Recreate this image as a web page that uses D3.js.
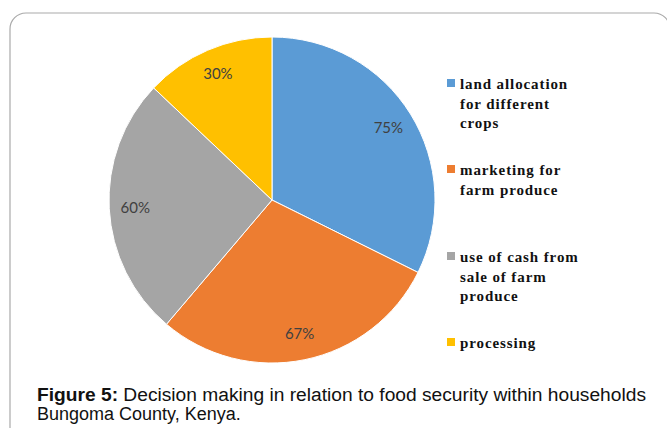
<!DOCTYPE html>
<html>
<head>
<meta charset="utf-8">
<script src="https://cdn.jsdelivr.net/npm/d3@7"></script>
<style>
  body { margin: 0; background: #fff; }
</style>
</head>
<body>
<script>
// pie data
var categories = ["land allocation for different crops", "marketing for farm produce",
                  "use of cash from sale of farm produce", "processing"];
var values = [75, 67, 60, 30];
var colors = ["#5b9bd5", "#ed7d31", "#a5a5a5", "#ffc000"];
// legend lines (wrapped like the original)
var legendLines = [["land allocation", "for different", "crops"],
                   ["marketing for", "farm produce"],
                   ["use of cash from", "sale of farm", "produce"],
                   ["processing"]];

var w_svg = 667, h_svg = 428;
var cx = 272, cy = 200, radius = 163;

var svg = d3.select("body").append("svg")
  .attr("width", w_svg).attr("height", h_svg);

// rounded frame
svg.append("rect")
  .attr("x", 10).attr("y", 13)
  .attr("width", 660).attr("height", 440)
  .attr("rx", 16)
  .attr("fill", "none")
  .attr("stroke", "#aaaaaa")
  .attr("stroke-width", 1.2);

var pie = d3.pie().sort(null).value(function(d) { return d; });
var arcs = pie(values);
var arc = d3.arc().innerRadius(0).outerRadius(radius);
var labelArc = d3.arc().innerRadius(radius * 0.84).outerRadius(radius * 0.84);

var g = svg.append("g").attr("transform", "translate(" + cx + "," + cy + ")");

g.selectAll("path")
  .data(arcs)
  .enter()
  .append("path")
  .attr("d", arc)
  .attr("fill", function(d, i) { return colors[i]; })
  .attr("stroke", "#fff")
  .attr("stroke-width", 1);

g.selectAll("text")
  .data(arcs)
  .enter()
  .append("text")
  .attr("transform", function(d) { return "translate(" + labelArc.centroid(d) + ")"; })
  .attr("text-anchor", "middle")
  .attr("dy", "0.35em")
  .style("font-family", "Lato, 'Open Sans', sans-serif")
  .style("font-size", "15px")
  .attr("fill", "#404040")
  .text(function(d) { return d.value + "%"; });

// legend
var legendTop = [89, 175, 262, 348];
var legend = svg.append("g");
legendLines.forEach(function(lines, i) {
  legend.append("rect")
    .attr("x", 447).attr("y", legendTop[i] - 10)
    .attr("width", 8).attr("height", 8)
    .attr("fill", colors[i]);
  var t = legend.append("text")
    .attr("x", 460).attr("y", legendTop[i])
    .style("font-family", "'Liberation Serif', serif")
    .style("font-weight", "bold")
    .style("font-size", "15px")
    .style("letter-spacing", "0.9px")
    .attr("fill", "#111");
  lines.forEach(function(line, j) {
    t.append("tspan").attr("x", 460).attr("y", legendTop[i] + j * 19.5).text(line);
  });
});

// caption
var cap = svg.append("g")
  .style("font-family", "'Liberation Sans', Arial, sans-serif")
  .style("font-size", "18px")
  .attr("fill", "#111");
var line1 = cap.append("text").attr("x", 37).attr("y", 401)
  .attr("textLength", 609).attr("lengthAdjust", "spacingAndGlyphs");
line1.append("tspan").style("font-weight", "bold").text("Figure 5:");
line1.append("tspan").text(" Decision making in relation to food security within households");
cap.append("text").attr("x", 37).attr("y", 420).text("Bungoma County, Kenya.");
</script>
</body>
</html>
